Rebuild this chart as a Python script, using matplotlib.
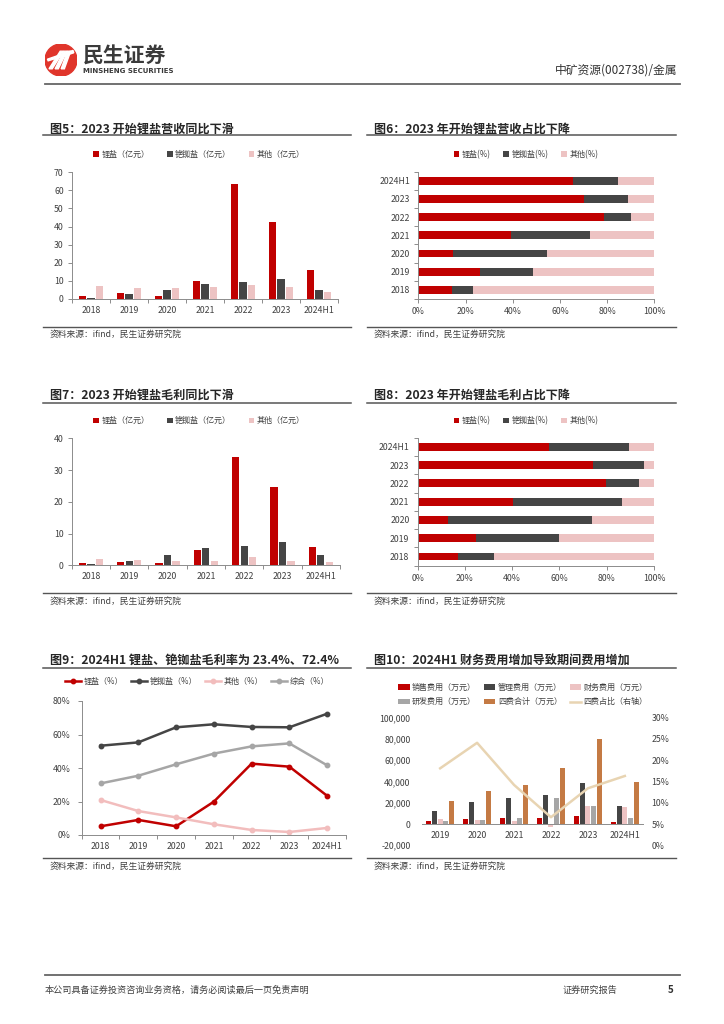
import numpy as np
import matplotlib
matplotlib.use('Agg')
import matplotlib.pyplot as plt
from matplotlib.lines import Line2D
from matplotlib.patches import Circle, Polygon
from matplotlib.ticker import FuncFormatter, FixedLocator

plt.rcParams['font.family'] = ['Noto Sans CJK SC', 'DejaVu Sans']
plt.rcParams['axes.unicode_minus'] = False

# ---- data ----
years = ['2018', '2019', '2020', '2021', '2022', '2023', '2024H1']

# 图5 营收（亿元）
rev_li = [1.5, 3.2, 1.8, 9.7, 63.5, 42.5, 16.0]
rev_cs = [0.8, 2.5, 5.2, 8.2, 9.6, 11.2, 5.0]
rev_ot = [7.1, 6.2, 6.0, 6.5, 8.0, 6.5, 3.8]

# 图6 营收占比（%）
rev_li_pct = [14.3, 26.1, 14.5, 39.1, 78.8, 70.2, 65.4]
rev_cs_pct = [9.0, 22.5, 40.0, 33.6, 11.3, 18.6, 19.2]
rev_ot_pct = [76.7, 51.4, 45.5, 27.3, 9.9, 11.2, 15.4]

# 图7 毛利（亿元）
gp_li = [0.6, 1.0, 0.7, 4.7, 34.2, 24.6, 5.7]
gp_cs = [0.4, 1.5, 3.4, 5.4, 6.0, 7.4, 3.4]
gp_ot = [1.9, 1.7, 1.4, 1.4, 2.6, 1.3, 1.0]

# 图8 毛利占比（%）
gp_li_pct = [16.9, 24.8, 13.0, 40.2, 79.5, 74.0, 55.7]
gp_cs_pct = [15.3, 35.0, 60.8, 46.3, 14.0, 21.8, 33.7]
gp_ot_pct = [67.8, 40.2, 26.2, 13.5, 6.5, 4.2, 10.6]

# 图9 毛利率（%）
gm_li = [5.2, 9.0, 5.2, 19.9, 42.6, 40.8, 23.4]
gm_cs = [53.3, 55.3, 64.3, 66.1, 64.5, 64.3, 72.4]
gm_ot = [20.9, 14.3, 10.5, 6.4, 3.0, 1.8, 4.2]
gm_all = [30.8, 35.4, 42.2, 48.6, 52.9, 54.7, 41.6]

# 图10 期间费用（万元）
fee_years = ['2019', '2020', '2021', '2022', '2023', '2024H1']
fee_sale = [2500, 5000, 5600, 5600, 7500, 1900]
fee_admin = [12200, 20400, 24100, 27000, 38900, 16900]
fee_fin = [4700, 3400, 2500, -3100, 16900, 16300]
fee_rd = [2800, 3800, 5600, 24100, 17200, 5600]
fee_total = [21600, 31300, 36700, 52700, 79900, 39800]
fee_ratio = [18.1, 24.1, 14.2, 6.6, 13.4, 16.3]

RED = '#C00000'
DARK = '#454545'
PINK = '#EDC3C3'
GRAY = '#A6A6A6'
ORANGE = '#C47A44'
BEIGE = '#E8D4B2'
SPINE = '#8C8C8C'
TXT = '#404040'

W, H = 724, 1024
fig = plt.figure(figsize=(W / 100, H / 100), dpi=100)


def box(x0, y0, x1, y1):
    return [x0 / W, 1 - y1 / H, (x1 - x0) / W, (y1 - y0) / H]


def hline(x0, x1, y, color='#555555', lw=1.1):
    fig.add_artist(Line2D([x0 / W, x1 / W], [1 - y / H, 1 - y / H],
                          transform=fig.transFigure, color=color, lw=lw))


def ftext(x, y, s, **kw):
    fig.text(x / W, 1 - y / H, s, **kw)


def panel_frame(x0, x1, y_title, y_line, y_bottom, y_src, title):
    ftext(x0 + 7, y_title, title, fontsize=8.7, fontweight='bold', color='#262626', va='center')
    hline(x0, x1, y_line)
    hline(x0, x1, y_bottom, lw=1.0)
    ftext(x0 + 7, y_src, '资料来源：ifind，民生证券研究院', fontsize=6.3, color=TXT, va='center')


def style_axes(ax):
    for s in ['top', 'right']:
        ax.spines[s].set_visible(False)
    for s in ['left', 'bottom']:
        ax.spines[s].set_color(SPINE)
        ax.spines[s].set_linewidth(0.7)
    ax.tick_params(colors=TXT, labelsize=6.3, width=0.7)
    ax.tick_params(axis='both', which='both', color=SPINE)


def cat_xaxis(ax, labels):
    n = len(labels)
    ax.set_xlim(-0.5, n - 0.5)
    ax.set_xticks(np.arange(n))
    ax.set_xticklabels(labels)
    ax.xaxis.set_minor_locator(FixedLocator(np.arange(n + 1) - 0.5))
    ax.tick_params(axis='x', which='major', length=0, pad=5)
    ax.tick_params(axis='x', which='minor', length=3, width=0.7)


def square_legend(handles, labels, cx, cy, ncol=3, colsp=2.2):
    fig.legend(handles, labels, loc='center', bbox_to_anchor=(cx / W, 1 - cy / H),
               ncol=ncol, frameon=False, fontsize=5.8, handlelength=0.7, handleheight=0.7,
               handletextpad=0.3, columnspacing=colsp, labelcolor=TXT)


def grouped_bars(rect, series, ymax, ystep, leg_y, leg_x):
    ax = fig.add_axes(box(*rect))
    style_axes(ax)
    x = np.arange(len(years))
    cols = [RED, DARK, PINK]
    hs = []
    for i, (vals, c) in enumerate(zip(series, cols)):
        hs.append(ax.bar(x + (i - 1) * 0.22, vals, 0.19, color=c))
    cat_xaxis(ax, years)
    ax.set_ylim(0, ymax)
    ax.set_yticks(np.arange(0, ymax + 1, ystep))
    ax.tick_params(axis='y', length=3, pad=3)
    square_legend(hs, ['锂盐（亿元）', '铯铷盐（亿元）', '其他（亿元）'], leg_x, leg_y)
    return ax


def stacked_barh(rect, series, leg_y, leg_x):
    ax = fig.add_axes(box(*rect))
    style_axes(ax)
    y = np.arange(len(years))
    left = np.zeros(len(years))
    cols = [RED, DARK, PINK]
    hs = []
    for vals, c in zip(series, cols):
        hs.append(ax.barh(y, vals, 0.43, left=left, color=c))
        left = left + np.array(vals)
    ax.set_ylim(-0.5, len(years) - 0.5)
    ax.set_yticks(y)
    ax.set_yticklabels(years)
    ax.yaxis.set_minor_locator(FixedLocator(np.arange(len(years) + 1) - 0.5))
    ax.tick_params(axis='y', which='major', length=0, pad=6)
    ax.tick_params(axis='y', which='minor', length=3, width=0.7)
    ax.set_xlim(0, 100)
    ax.set_xticks(np.arange(0, 101, 20))
    ax.xaxis.set_major_formatter(FuncFormatter(lambda v, p: '%d%%' % v))
    ax.tick_params(axis='x', length=3, pad=3)
    square_legend(hs, ['锂盐(%)', '铯铷盐(%)', '其他(%)'], leg_x, leg_y, colsp=1.6)
    return ax


# ---- header ----
lax = fig.add_axes(box(45, 44, 77, 76))
lax.set_xlim(-1, 1)
lax.set_ylim(-1, 1)
lax.set_aspect('equal')
lax.axis('off')
lax.add_patch(Circle((0, 0), 1, color='#E0352B'))
for k in range(3):
    dx = k * 0.38
    lax.add_patch(Polygon([(-0.75 + dx, -0.55), (-0.55 + dx, -0.55), (0.15 + dx * 0.6, 0.55),
                           (-0.05 + dx * 0.6, 0.55)], closed=True, color='white'))
lax.add_patch(Polygon([(-0.85, 0.05), (0.75, 0.6), (0.8, 0.45), (-0.8, -0.05)], closed=True, color='white'))
ftext(83, 56, '民生证券', fontsize=15, fontweight='bold', color='#3A3A3A', va='center')
ftext(83, 71, 'MINSHENG SECURITIES', fontsize=5, fontweight='bold', color='#3A3A3A', va='center',
      family=['DejaVu Sans'])
ftext(677, 70, '中矿资源(002738)/金属', fontsize=8.5, color='#333333', va='center', ha='right')
hline(45, 680, 84, color='#666666', lw=1.3)

# ---- footer ----
hline(45, 680, 975, color='#666666', lw=1.3)
ftext(45, 990, '本公司具备证券投资咨询业务资格，请务必阅读最后一页免责声明', fontsize=6.6, color=TXT, va='center')
ftext(563, 990, '证券研究报告', fontsize=6.6, color=TXT, va='center')
ftext(671, 990, '5', fontsize=7, fontweight='bold', color='#333333', va='center', ha='center')

# ---- 图5 ----
panel_frame(43, 351, 129, 135, 327, 334, '图5：2023 开始锂盐营收同比下滑')
grouped_bars((72, 172.3, 338, 299), [rev_li, rev_cs, rev_ot], 70, 10, 154.3, 199)

# ---- 图6 ----
panel_frame(367, 676, 129, 135, 327, 334, '图6：2023 年开始锂盐营收占比下降')
stacked_barh((418.3, 171.7, 654.3, 299), [rev_li_pct, rev_cs_pct, rev_ot_pct], 154.3, 526)

# ---- 图7 ----
panel_frame(43, 351, 395, 402.7, 593.3, 601.7, '图7：2023 开始锂盐毛利同比下滑')
grouped_bars((71.7, 438.3, 340, 565.3), [gp_li, gp_cs, gp_ot], 40, 10, 420.7, 199)

# ---- 图8 ----
panel_frame(367, 676, 395, 402.7, 593.3, 601.7, '图8：2023 年开始锂盐毛利占比下降')
stacked_barh((417.7, 437.7, 654, 565.7), [gp_li_pct, gp_cs_pct, gp_ot_pct], 420.7, 526)

# ---- 图9 ----
panel_frame(43, 351, 660, 667.7, 858.3, 866.7, '图9：2024H1 锂盐、铯铷盐毛利率为 23.4%、72.4%')
ax9 = fig.add_axes(box(81.7, 701, 346, 835))
style_axes(ax9)
x = np.arange(len(years))
hs9 = []
for vals, c in zip([gm_li, gm_cs, gm_ot, gm_all], [RED, DARK, '#F2BDBD', GRAY]):
    hs9.append(ax9.plot(x, vals, color=c, lw=1.8, marker='o', ms=3.2)[0])
cat_xaxis(ax9, years)
ax9.set_ylim(0, 80)
ax9.set_yticks(np.arange(0, 81, 20))
ax9.yaxis.set_major_formatter(FuncFormatter(lambda v, p: '%d%%' % v))
ax9.tick_params(axis='y', length=3, pad=5)
fig.legend(hs9, ['锂盐（%）', '铯铷盐（%）', '其他（%）', '综合（%）'], loc='center',
           bbox_to_anchor=(197 / W, 1 - 681.7 / H), ncol=4, frameon=False, fontsize=5.8,
           handlelength=2.0, handletextpad=0.3, columnspacing=1.0, labelcolor=TXT)

# ---- 图10 ----
panel_frame(367, 676, 660, 667.7, 858.3, 866.7, '图10：2024H1 财务费用增加导致期间费用增加')
ax10 = fig.add_axes(box(421.7, 717.7, 643.3, 845.3))
style_axes(ax10)
xf = np.arange(len(fee_years))
hs10 = []
for i, (vals, c) in enumerate(zip([fee_sale, fee_admin, fee_fin, fee_rd, fee_total],
                                  [RED, DARK, PINK, GRAY, ORANGE])):
    hs10.append(ax10.bar(xf + (i - 2) * 0.155, vals, 0.135, color=c))
cat_xaxis(ax10, fee_years)
ax10.tick_params(axis='x', which='minor', length=0)
ax10.spines['left'].set_visible(False)
ax10.spines['bottom'].set_position(('data', 0))
ax10.set_ylim(-20000, 100000)
ax10.set_yticks(np.arange(-20000, 100001, 20000))
ax10.yaxis.set_major_formatter(FuncFormatter(lambda v, p: '{:,.0f}'.format(v)))
ax10.tick_params(axis='y', length=0, pad=8)
ax10r = ax10.twinx()
for s in ['top', 'left', 'right', 'bottom']:
    ax10r.spines[s].set_visible(False)
ln10, = ax10r.plot(xf, fee_ratio, color=BEIGE, lw=1.8)
ax10r.set_ylim(0, 30)
ax10r.set_yticks(np.arange(0, 31, 5))
ax10r.yaxis.set_major_formatter(FuncFormatter(lambda v, p: '%d%%' % v))
ax10r.tick_params(axis='y', length=0, pad=6, colors=TXT, labelsize=6.3)
labs10 = ['销售费用（万元）', '管理费用（万元）', '财务费用（万元）',
          '研发费用（万元）', '四费合计（万元）', '四费占比（右轴）']
hd10 = hs10 + [ln10]
order = [0, 3, 1, 4, 2, 5]
leg10 = fig.legend([hd10[i] for i in order], [labs10[i] for i in order], loc='center',
                   bbox_to_anchor=(523 / W, 1 - 694.5 / H), ncol=3, frameon=False, fontsize=5.8,
                   handlelength=1.4, handleheight=0.7, handletextpad=0.3, columnspacing=1.0,
                   labelspacing=0.7, labelcolor=TXT)

fig.savefig('out.png', dpi=100)
